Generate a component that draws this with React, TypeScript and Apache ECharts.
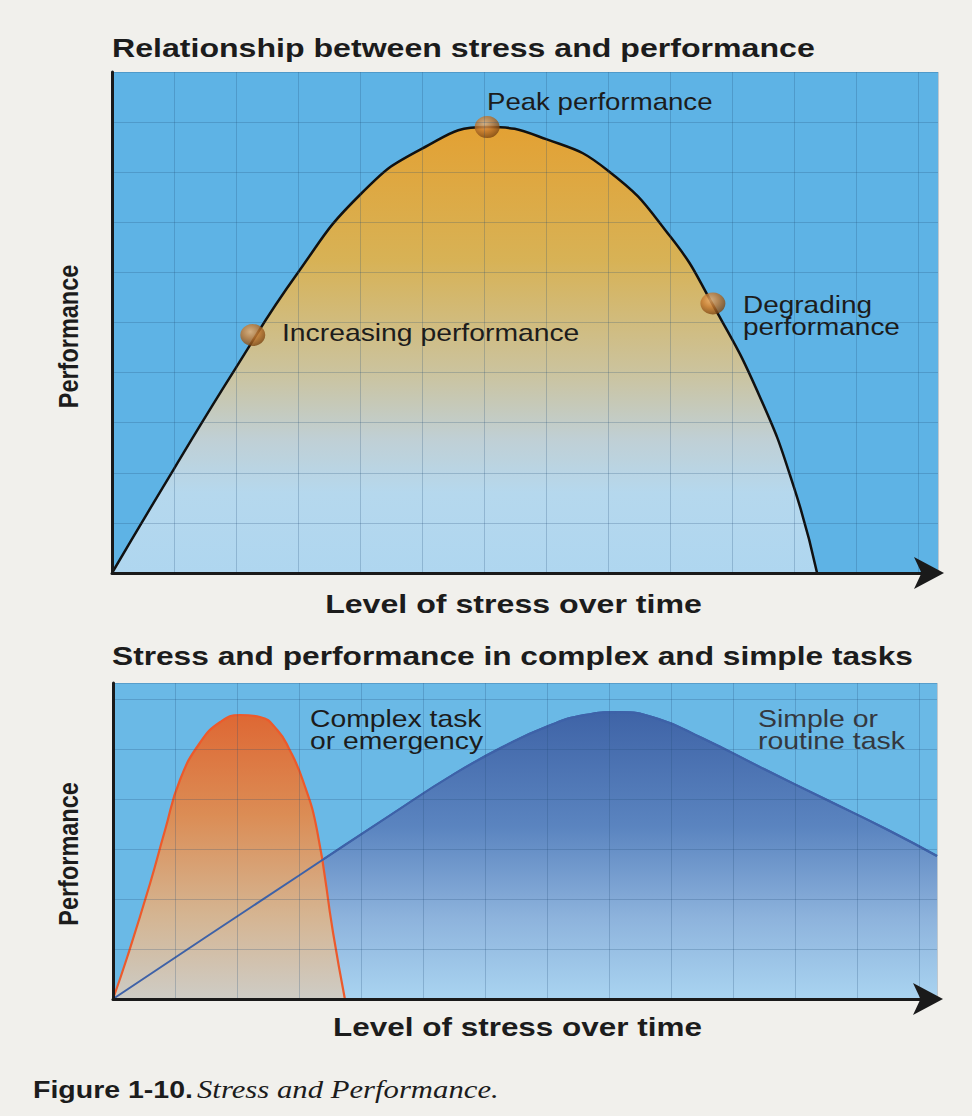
import React, { useEffect, useRef } from "react";
import * as echarts from "echarts";

// Top chart: general stress/performance curve (x = level of stress, y = performance; grid units)
const stressTop = [0, 1, 2, 3, 4, 5, 6.05, 7, 8, 9, 9.69, 10.45, 11, 11.37];
const perfTop = [0, 2.08, 4.1, 6.0, 7.55, 8.47, 8.9, 8.66, 8.03, 6.72, 5.35, 3.51, 1.7, 0];

// Highlighted points on the top curve
const markerNames = ["Increasing performance", "Peak performance", "Degrading performance"];
const markerStress = [2.27, 6.05, 9.69];
const markerPerf = [4.75, 8.9, 5.38];

// Bottom chart: complex task or emergency
const stressComplex = [0, 0.23, 0.6, 0.84, 1.08, 1.4, 1.73, 2.05, 2.37, 2.65, 2.85, 3.06, 3.29, 3.55, 3.74];
const perfComplex = [0, 0.84, 2.32, 3.38, 4.38, 5.12, 5.54, 5.68, 5.64, 5.38, 4.98, 4.38, 3.38, 1.32, 0];

// Bottom chart: simple or routine task
const stressSimple = [0, 1.5, 3, 4.5, 5.5, 6.3, 7.0, 7.6, 8.15, 8.8, 9.5, 10.5, 11.5, 12.5, 13.29];
const perfSimple = [0, 1.24, 2.47, 3.7, 4.5, 5.05, 5.45, 5.68, 5.74, 5.6, 5.22, 4.6, 3.99, 3.38, 2.86];

// Axis extents (grid units)
const topXMax = 13.32;
const topYMax = 10;
const botXMax = 13.29;
const botYMax = 6.32;

const SANS = "'Liberation Sans', Arial, Helvetica, sans-serif";
const SERIF = "'Liberation Serif', 'Times New Roman', serif";

const zip = (xs: number[], ys: number[]) => xs.map((x, i) => [x, ys[i]]);

const gridLine = { show: true, lineStyle: { color: "rgba(35,75,115,0.24)", width: 1 } };

function makeX(gridIndex: number, max: number) {
  return {
    type: "value",
    gridIndex,
    min: 0,
    max,
    interval: 1,
    z: 10,
    axisLabel: { show: false },
    axisTick: { show: false },
    splitLine: gridLine,
    axisLine: {
      show: true,
      symbol: ["none", "arrow"],
      symbolSize: [24, 30],
      symbolOffset: [0, 6],
      lineStyle: { color: "#1a1a1a", width: 3 },
    },
  };
}

function makeY(gridIndex: number, max: number) {
  return {
    type: "value",
    gridIndex,
    min: 0,
    max,
    interval: 1,
    z: 10,
    axisLabel: { show: false },
    axisTick: { show: false },
    splitLine: gridLine,
    axisLine: { show: true, onZero: false, lineStyle: { color: "#1a1a1a", width: 3 } },
  };
}

function txt(
  text: string,
  x: number,
  y: number,
  opts: {
    size: number;
    weight?: string;
    style?: string;
    family?: string;
    align?: string;
    sx?: number;
    sy?: number;
    rot?: number;
    fill?: string;
    lh?: number;
  }
) {
  return {
    type: "text",
    x,
    y,
    z: 100,
    rotation: opts.rot || 0,
    scaleX: opts.sx || 1,
    scaleY: opts.sy || 1,
    silent: true,
    style: {
      text,
      fontSize: opts.size,
      fontWeight: opts.weight || "normal",
      fontStyle: opts.style || "normal",
      fontFamily: opts.family || SANS,
      fill: opts.fill || "#1c1c1c",
      align: opts.align || "left",
      verticalAlign: "middle",
      lineHeight: opts.lh,
    },
  };
}

export default function App() {
  const ref = useRef<HTMLDivElement>(null);

  useEffect(() => {
    if (!ref.current) return;
    const chart = echarts.init(ref.current, null, { renderer: "svg" });

    const option = {
      animation: false,
      backgroundColor: "#f1f0ec",
      grid: [
        { left: 112, top: 72, width: 826, height: 501, show: true, backgroundColor: "#5eb3e5", borderWidth: 0 },
        { left: 113, top: 683, width: 824, height: 316, show: true, backgroundColor: "#6ab9e6", borderWidth: 0 },
      ],
      xAxis: [makeX(0, topXMax), makeX(1, botXMax)],
      yAxis: [makeY(0, topYMax), makeY(1, botYMax)],
      series: [
        {
          type: "line",
          name: "Performance",
          xAxisIndex: 0,
          yAxisIndex: 0,
          data: zip(stressTop, perfTop),
          smooth: 0.5,
          showSymbol: false,
          lineStyle: { color: "#111", width: 2.5 },
          areaStyle: {
            opacity: 0.95,
            color: {
              type: "linear",
              x: 0,
              y: 0,
              x2: 0,
              y2: 1,
              colorStops: [
                { offset: 0, color: "#eaa02a" },
                { offset: 0.3, color: "#deb24e" },
                { offset: 0.55, color: "#d1c49a" },
                { offset: 0.7, color: "#c5d1d4" },
                { offset: 0.82, color: "#badaee" },
                { offset: 1, color: "#b3d8f0" },
              ],
            },
          },
          z: 2,
        },
        {
          type: "scatter",
          name: "Markers",
          xAxisIndex: 0,
          yAxisIndex: 0,
          data: markerStress.map((x, i) => ({ name: markerNames[i], value: [x, markerPerf[i]] })),
          symbol: "circle",
          symbolSize: [25, 22],
          itemStyle: {
            color: {
              type: "radial",
              x: 0.4,
              y: 0.35,
              r: 0.7,
              colorStops: [
                { offset: 0, color: "#f0ae68" },
                { offset: 0.45, color: "#c77a30" },
                { offset: 1, color: "#74400f" },
              ],
            },
          },
          z: 5,
        },
        {
          type: "line",
          name: "Simple or routine task",
          xAxisIndex: 1,
          yAxisIndex: 1,
          data: zip(stressSimple, perfSimple),
          smooth: 0.5,
          showSymbol: false,
          lineStyle: { color: "#3e62a8", width: 2 },
          areaStyle: {
            opacity: 0.96,
            color: {
              type: "linear",
              x: 0,
              y: 0,
              x2: 0,
              y2: 1,
              colorStops: [
                { offset: 0, color: "#3d60a4" },
                { offset: 0.4, color: "#5a82be" },
                { offset: 0.72, color: "#8fb3dc" },
                { offset: 1, color: "#acd5f1" },
              ],
            },
          },
          z: 2,
        },
        {
          type: "line",
          name: "Complex task or emergency",
          xAxisIndex: 1,
          yAxisIndex: 1,
          data: zip(stressComplex, perfComplex),
          smooth: 0.5,
          showSymbol: false,
          lineStyle: { color: "#ec5a2c", width: 2.2 },
          areaStyle: {
            opacity: 0.97,
            color: {
              type: "linear",
              x: 0,
              y: 0,
              x2: 0,
              y2: 1,
              colorStops: [
                { offset: 0, color: "#e2652e" },
                { offset: 0.35, color: "#df8b50" },
                { offset: 0.7, color: "#d8b48e" },
                { offset: 1, color: "#cfccc4" },
              ],
            },
          },
          z: 3,
        },
        {
          type: "line",
          name: "Simple task line",
          xAxisIndex: 1,
          yAxisIndex: 1,
          data: zip(stressSimple, perfSimple),
          smooth: 0.5,
          showSymbol: false,
          lineStyle: { color: "#3e62a8", width: 2 },
          z: 4,
        },
      ],
      graphic: {
        elements: [
          txt("Relationship between stress and performance", 112, 48.5, { size: 26, weight: "bold", sx: 1.235 }),
          txt("Peak performance", 487, 101.5, { size: 24, sx: 1.15 }),
          txt("Increasing performance", 282, 332.5, { size: 24, sx: 1.18 }),
          txt("Degrading\nperformance", 743, 316, { size: 24, sx: 1.165, lh: 22 }),
          txt("Performance", 68, 336.5, { size: 23.5, weight: "bold", rot: Math.PI / 2, sy: 1.2, align: "center" }),
          txt("Level of stress over time", 513.5, 604, { size: 25.5, weight: "bold", sx: 1.26, align: "center" }),
          txt("Stress and performance in complex and simple tasks", 112, 656, { size: 26, weight: "bold", sx: 1.219 }),
          txt("Complex task\nor emergency", 310, 729.5, { size: 24, sx: 1.18, lh: 22 }),
          txt("Simple or\nroutine task", 758, 729.5, { size: 24, sx: 1.185, lh: 22, fill: "#34383f" }),
          txt("Performance", 68, 854, { size: 23.5, weight: "bold", rot: Math.PI / 2, sy: 1.2, align: "center" }),
          txt("Level of stress over time", 517.5, 1027.5, { size: 25.5, weight: "bold", sx: 1.234, align: "center" }),
          txt("Figure 1-10.", 33, 1090, { size: 23, weight: "bold", sx: 1.24 }),
          txt("Stress and Performance.", 197, 1090, { size: 25, style: "italic", family: SERIF, sx: 1.229 }),
        ],
      },
    };

    chart.setOption(option as any);
    return () => chart.dispose();
  }, []);

  return (
    <div
      ref={ref}
      style={{ position: "absolute", left: 0, top: 0, width: 972, height: 1116 }}
    />
  );
}
